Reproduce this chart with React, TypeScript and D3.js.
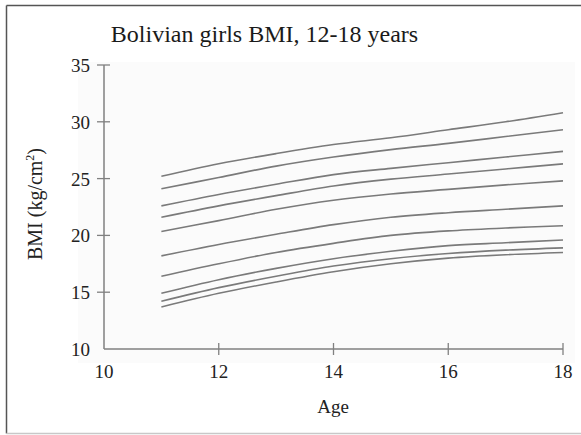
import React from "react";
import * as d3 from "d3";

const ages = [11, 12, 13, 14, 15, 16, 17, 18];
const centile1 = [25.2, 26.3, 27.2, 28.0, 28.6, 29.3, 30.0, 30.8];
const centile2 = [24.1, 25.1, 26.1, 26.9, 27.55, 28.1, 28.7, 29.3];
const centile3 = [22.6, 23.6, 24.5, 25.35, 25.9, 26.4, 26.9, 27.4];
const centile4 = [21.6, 22.6, 23.5, 24.35, 24.95, 25.4, 25.85, 26.3];
const centile5 = [20.35, 21.3, 22.3, 23.1, 23.65, 24.05, 24.45, 24.8];
const centile6 = [18.2, 19.2, 20.1, 20.95, 21.6, 22.0, 22.3, 22.6];
const centile7 = [16.4, 17.5, 18.5, 19.3, 20.0, 20.4, 20.65, 20.85];
const centile8 = [14.9, 16.1, 17.1, 17.95, 18.6, 19.1, 19.35, 19.6];
const centile9 = [14.2, 15.4, 16.4, 17.3, 17.95, 18.4, 18.7, 18.9];
const centile10 = [13.7, 14.9, 15.9, 16.8, 17.5, 18.0, 18.3, 18.5];
const series = [centile1, centile2, centile3, centile4, centile5, centile6, centile7, centile8, centile9, centile10];

const xTicks = [10, 12, 14, 16, 18];
const yTicks = [10, 15, 20, 25, 30, 35];

export default function App() {
  const W = 581, H = 435;
  const x = d3.scaleLinear().domain([10, 18]).range([104, 563]);
  const y = d3.scaleLinear().domain([10, 35]).range([349, 65]);
  const line = d3
    .line<number>()
    .x((_, i) => x(ages[i]))
    .y((d) => y(d))
    .curve(d3.curveCatmullRom.alpha(0.5));
  const font = "'Liberation Serif', 'Times New Roman', serif";
  const axisColor = "#808080";
  return (
    <div style={{ position: "absolute", left: 0, top: 0 }}>
      <svg width={W} height={H} style={{ display: "block", background: "#fff" }} fontFamily={font}>
        <rect x={78} y={62} width={497} height={301} fill="#fbfbfb" />
        <line x1={6.5} y1={5.5} x2={581} y2={5.5} stroke="#555" strokeWidth={1.5} />
        <line x1={6.5} y1={5.5} x2={6.5} y2={433.5} stroke="#555" strokeWidth={1.5} />
        <line x1={6.5} y1={433.5} x2={581} y2={433.5} stroke="#c8c8c8" strokeWidth={1.5} />
        <text x={264.5} y={42} textAnchor="middle" fontSize={24} fill="#1a1a1a">
          Bolivian girls BMI, 12-18 years
        </text>
        {series.map((s, i) => (
          <path key={i} d={line(s) || ""} fill="none" stroke="#7a7a7a" strokeWidth={1.6} />
        ))}
        <line x1={x(10)} y1={y(10)} x2={x(18)} y2={y(10)} stroke={axisColor} strokeWidth={1.5} />
        <line x1={x(10)} y1={y(10)} x2={x(10)} y2={y(35)} stroke={axisColor} strokeWidth={1.5} />
        {xTicks.map((t) => (
          <g key={"x" + t}>
            {t !== 10 && (
              <line x1={x(t)} x2={x(t)} y1={y(10) - 6} y2={y(10) + 6} stroke={axisColor} strokeWidth={1.3} />
            )}
            <text x={x(t)} y={378} textAnchor="middle" fontSize={19} fill="#222">
              {t}
            </text>
          </g>
        ))}
        {yTicks.map((t) => (
          <g key={"y" + t}>
            {t !== 10 && (
              <line x1={x(10) - 7} x2={x(10) + 6} y1={y(t)} y2={y(t)} stroke={axisColor} strokeWidth={1.3} />
            )}
            <text x={90} y={y(t) + 7} textAnchor="end" fontSize={19} fill="#222">
              {t}
            </text>
          </g>
        ))}
        <text x={333} y={413} textAnchor="middle" fontSize={19} fill="#222">
          Age
        </text>
        <text transform="translate(42,204) rotate(-90)" textAnchor="middle" fontSize={20} fill="#222">
          BMI (kg/cm<tspan fontSize={12} dy={-8}>2</tspan><tspan dy={8}>)</tspan>
        </text>
      </svg>
    </div>
  );
}
